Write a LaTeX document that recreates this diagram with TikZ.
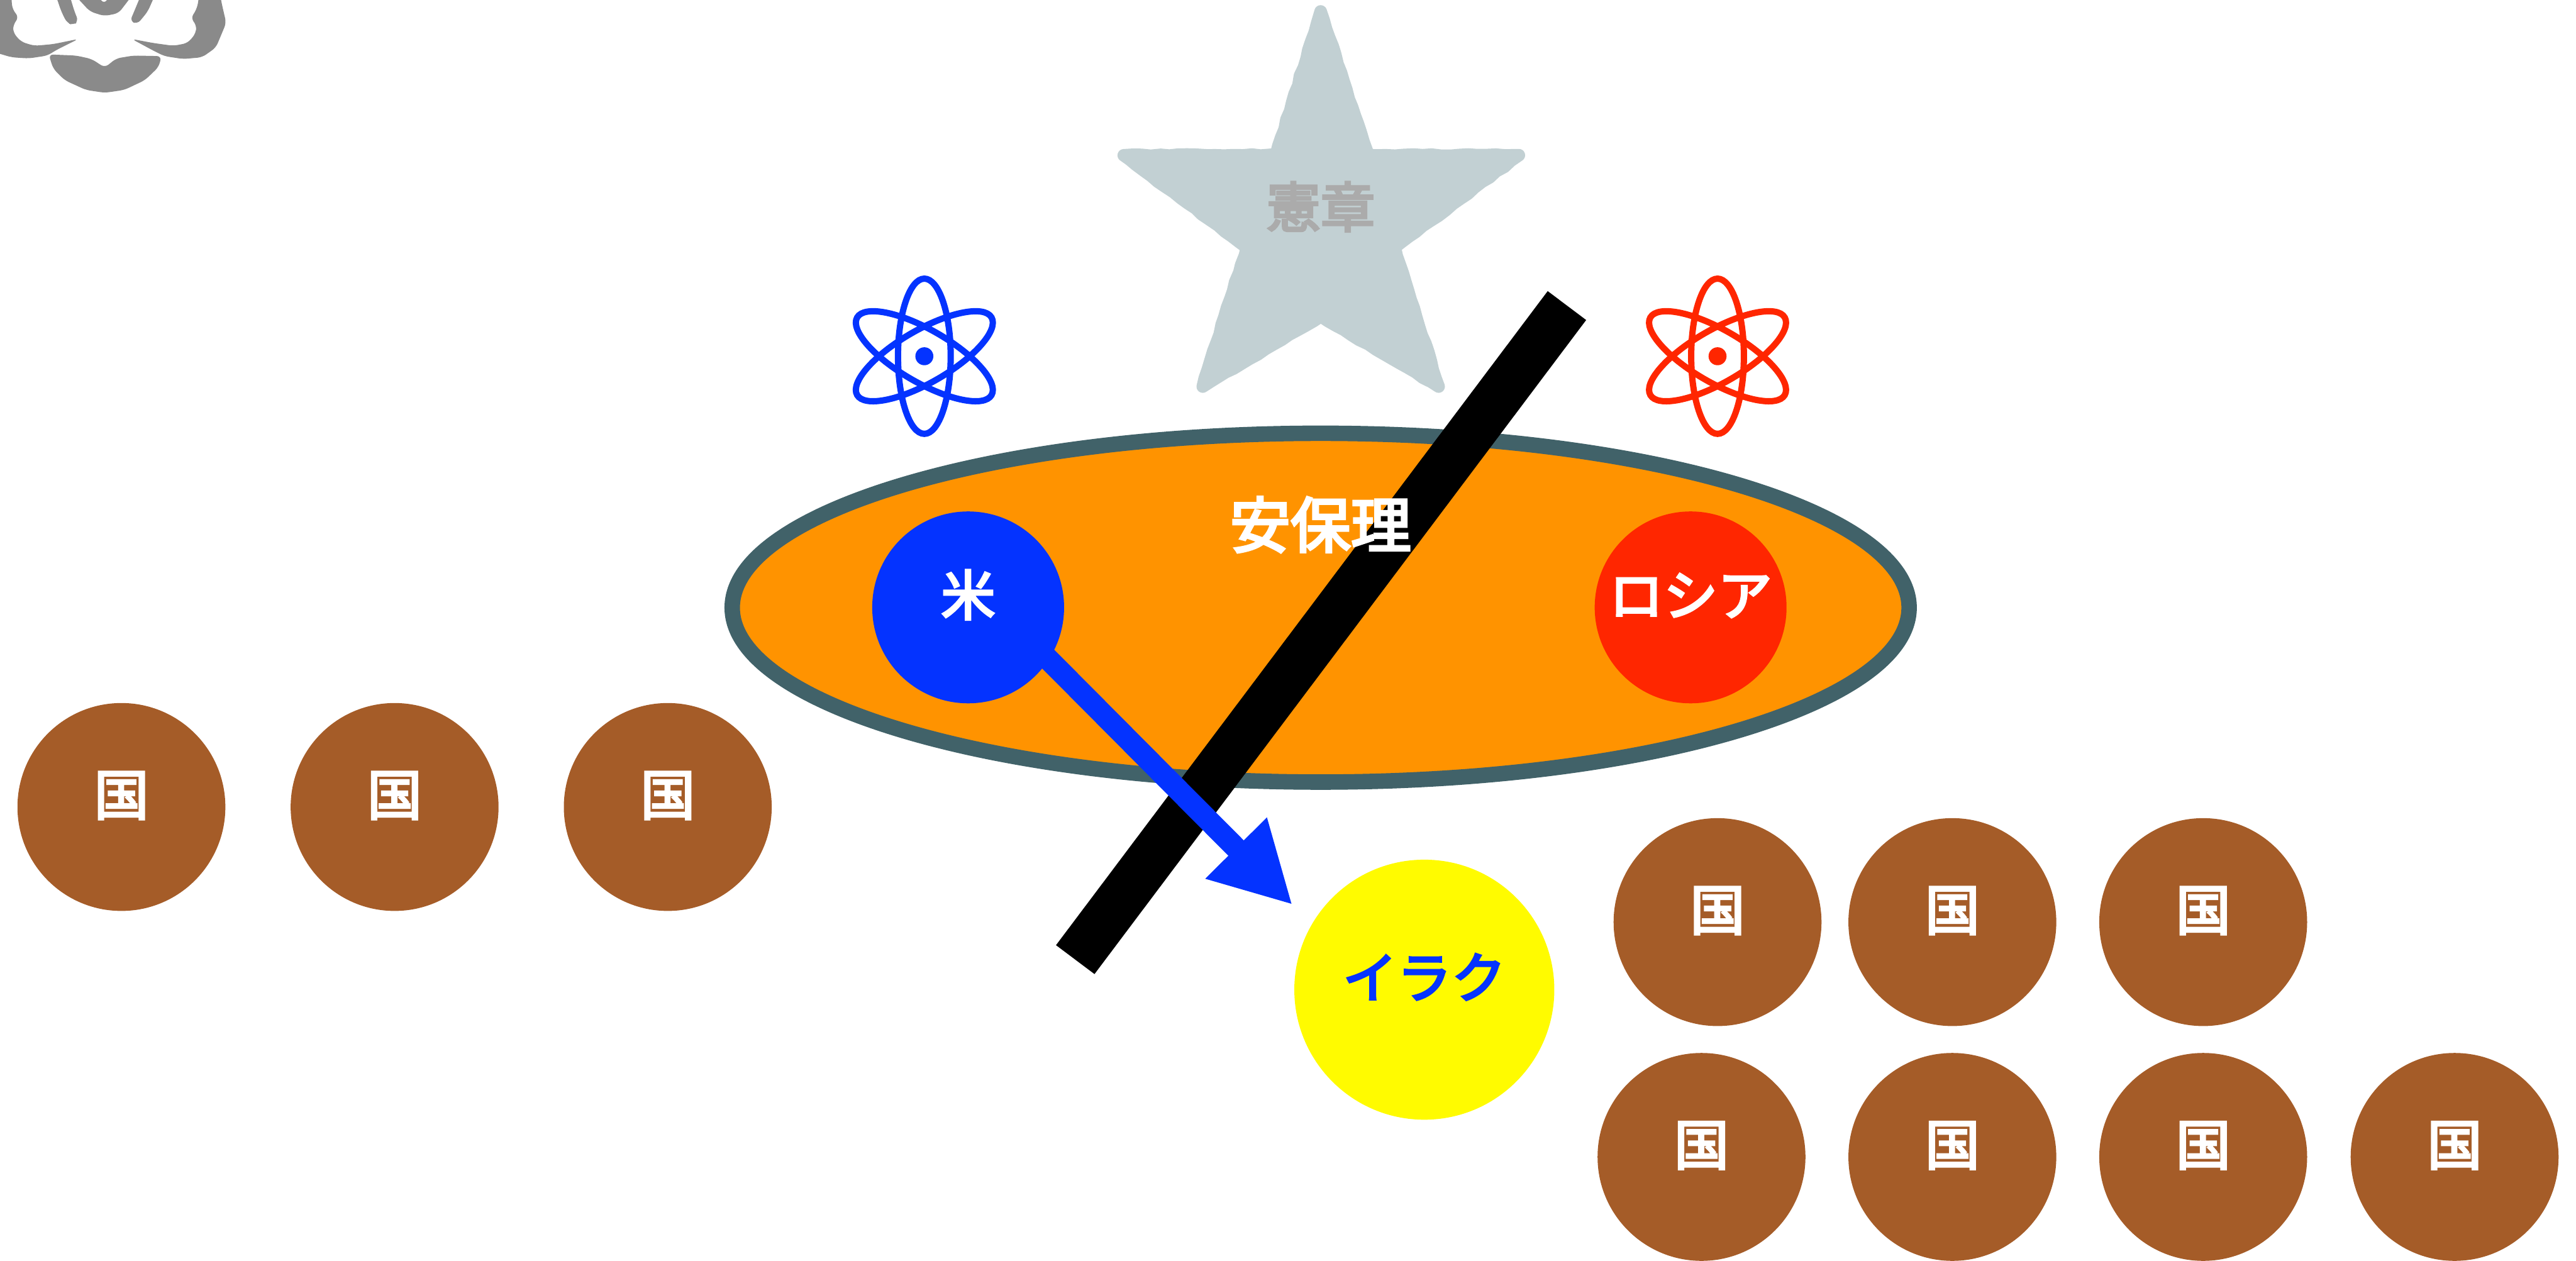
\documentclass[tikz,border=0pt]{standalone}
\usepackage{fontspec}
\usepackage{xcolor}
\usepackage{tikz}
\usetikzlibrary{shapes,arrows,arrows.meta,decorations.pathmorphing}
\newfontfamily\cjk[BoldFont=Noto Sans CJK JP,BoldFeatures={FakeBold=4}]{Noto Sans CJK JP}
\definecolor{usablue}{HTML}{0433FF}
\definecolor{rusred}{HTML}{FF2600}
\definecolor{unorange}{HTML}{FF9300}
\definecolor{unborder}{HTML}{416269}
\definecolor{brownland}{HTML}{A55C28}
\definecolor{staryellow}{HTML}{FFFB00}
\definecolor{stargrey}{HTML}{C2D0D3}
\begin{document}
\begin{tikzpicture}[
  bigtxt/.style={font=\cjk\bfseries\fontsize{27}{27}\selectfont},
  land/.style={bigtxt, circle, fill=#1, text=white, inner sep=0, text height=.9cm, text depth=.62cm},
  country/.style={land=brownland, minimum size=3.63cm},
  power/.style={land=#1, minimum size=3.35cm},
  crest/.style={fill=black!46, rounded corners=.08cm}]
\useasboundingbox (0,0) rectangle (44.98,-22.01);
% crest in the corner
\fill[crest] (.2,.3) -- (.2,0) -- (.22,-.17) -- (.33,-.3) -- (.23,-.43) -- (.23,-.57) -- (.37,-.73) -- (.6,-.8) -- (.93,-.77) -- (1.37,-.68) -- (.97,-.88) -- (.83,-.97) -- (.5,-1.02) -- (.2,-1) -- (-.3,-.85) -- (-.3,.3) -- cycle;
\fill[crest] (3.47,.3) -- (3.47,0) -- (3.43,-.17) -- (3.33,-.32) -- (3.43,-.43) -- (3.42,-.58) -- (3.28,-.75) -- (3.03,-.8) -- (2.67,-.75) -- (2.3,-.68) -- (2.67,-.88) -- (2.87,-.98) -- (3.2,-1.03) -- (3.53,-1) -- (3.77,-.83) -- (3.95,-.4) -- (3.88,-.1) -- (3.8,.3) -- cycle;
\fill[crest] (.85,-.95) -- (1.33,-.97) -- (1.6,-1.03) -- (1.83,-1.18) -- (2.03,-1.02) -- (2.33,-.97) -- (2.82,-.98) -- (2.77,-1.17) -- (2.53,-1.4) -- (2.17,-1.57) -- (1.83,-1.62) -- (1.5,-1.57) -- (1.13,-1.4) -- (.93,-1.2) -- cycle;
\fill[crest] (.9,.3) -- (1.07,-.2) -- (1.17,-.4) -- (1.28,-.44) -- (1.37,-.37) -- (1.3,-.2) -- (1.15,.3) -- cycle;
\fill[crest] (2.8,.3) -- (2.58,-.2) -- (2.4,-.42) -- (2.27,-.37) -- (2.33,-.23) -- (2.55,.3) -- cycle;
\fill[crest] (1.2,.2) -- (1.57,-.2) -- (1.82,-.28) -- (2.07,-.23) -- (2.4,.2) -- (2.0,.2) -- (1.82,-.07) -- (1.6,.2) -- cycle;
% emblem
\pgfmathsetseed{7}
\draw[stargrey, fill=stargrey, line width=.22cm, line join=round, decorate,
  decoration={random steps, segment length=.16cm, amplitude=.012cm}]
  (23.06,-.2) -- (23.88,-2.71) -- (26.52,-2.71) -- (24.35,-4.32) -- (25.12,-6.75) -- (23.06,-5.52)
  -- (21,-6.75) -- (21.77,-4.32) -- (19.62,-2.71) -- (22.28,-2.71) -- cycle;
\node[bigtxt, text=black!33, inner sep=0] (emblem) at (23.06,-3.61) {憲章};
% atoms
\foreach \ax/\acol in {16.14/usablue, 29.99/rusred}{
  \foreach \ang in {0,60,120}
    \draw[\acol, line width=.11cm, rotate around={\ang:(\ax,-6.22)}] (\ax,-6.22) ellipse (.46 and 1.355);
  \fill[\acol] (\ax,-6.22) circle (.157);
}
% council
\node[ellipse, draw=unborder, fill=unorange, line width=.27cm, minimum width=20.55cm, minimum height=6.09cm] (council) at (23.06,-10.61) {};
\node[power=usablue] (usa) at (16.905,-10.605) {米};
\node[power=rusred] (russia) at (29.52,-10.605) {ロシア};
% veto bar
\coordinate (barlow) at (18.775,-16.755);
\coordinate (barhigh) at (27.36,-5.335);
\draw[line width=.84cm] (barlow) -- (barhigh);
\node[bigtxt, font=\cjk\bfseries\fontsize{30}{30}\selectfont, text=white, inner sep=0] (council txt) at (23.06,-9.16) {安保理};
% countries
\node[country] (c1) at (2.12,-14.09) {国};
\node[country] (c2) at (6.89,-14.09) {国};
\node[country] (c3) at (11.66,-14.09) {国};
\node[country] (c4) at (29.99,-16.1) {国};
\node[country] (c5) at (34.09,-16.1) {国};
\node[country] (c6) at (38.47,-16.1) {国};
\node[country] (c7) at (29.71,-20.2) {国};
\node[country] (c8) at (34.09,-20.2) {国};
\node[country] (c9) at (38.47,-20.2) {国};
\node[country] (c10) at (42.86,-20.2) {国};
\node[land=staryellow, text=usablue, minimum size=4.54cm] (iraq) at (24.87,-17.28) {イラク};
\coordinate (hit) at (22.57,-15.8);
\draw[usablue, line width=.38cm, shorten <=-.2cm, -{Triangle[length=1.4cm,width=1.41cm]}] (usa.-33) -- (hit);
\end{tikzpicture}
\end{document}
